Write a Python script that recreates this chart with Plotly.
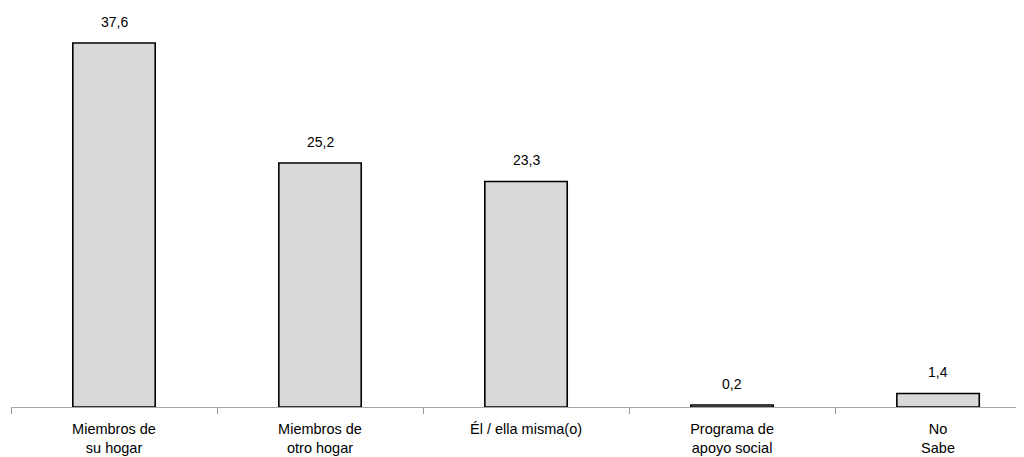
import plotly.graph_objects as go

categories = ["Miembros de<br>su hogar", "Miembros de<br>otro hogar", "Él / ella misma(o)",
              "Programa de<br>apoyo social", "No<br>Sabe"]
values = [37.6, 25.2, 23.3, 0.2, 1.4]
value_labels = ["37,6", "25,2", "23,3", "0,2", "1,4"]

FONT = "Liberation Sans, Arial, sans-serif"

fig = go.Figure()
fig.add_trace(go.Bar(
    x=categories, y=values, width=0.4,
    marker=dict(color="#d9d9d9", line=dict(color="#000000", width=1.6)),
    hoverinfo="skip",
))

for c, v, t in zip(categories, values, value_labels):
    fig.add_annotation(x=c, y=v, text=t, showarrow=False, yanchor="bottom",
                       yshift=11, font=dict(family=FONT, size=14, color="#000"))

fig.update_layout(
    width=1024, height=457,
    margin=dict(l=3, r=0, t=0, b=58),
    plot_bgcolor="white", paper_bgcolor="white",
    showlegend=False,
    font=dict(family=FONT, size=14, color="#000"),
    xaxis=dict(
        type="category",
        range=[-0.5, 4.456],
        tickson="boundaries", ticks="outside", ticklen=6, tickwidth=1, tickcolor="#999999",
        ticklabelstandoff=9,
        showline=True, linecolor="#a6a6a6", linewidth=1,
        showgrid=False, zeroline=False,
        tickfont=dict(family=FONT, size=14.5, color="#000"),
    ),
    yaxis=dict(range=[0, 41.22], visible=False, showgrid=False, zeroline=False),
)

fig.write_html("out.html")
